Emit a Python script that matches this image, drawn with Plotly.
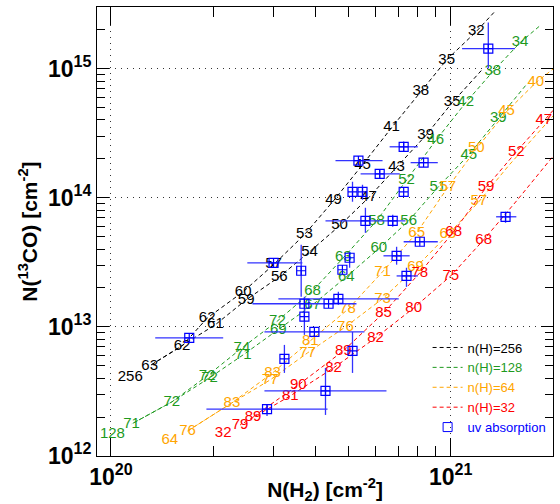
import plotly.graph_objects as go

# ---------------- model curves (N(H2), N(13CO), point labels) ----------------
# n(H)=256
b1_x = [1.34e21, 1.19e21, 9.73e20, 8.16e20, 6.70e20, 5.50e20, 4.52e20, 3.71e20, 3.01e20, 2.45e20, 1.92e20, 1.62e20, 1.30e20]
b1_y = [2.72e15, 1.94e15, 1.17e15, 6.63e14, 3.49e14, 1.80e14, 9.48e13, 5.17e13, 3.03e13, 1.87e13, 1.17e13, 7.12e12, 4.99e12]
b1_t = ["", "32", "35", "38", "41", "45", "49", "53", "57", "60", "62", "62", "63"]
b2_x = [1.23e21, 1.01e21, 8.44e20, 6.93e20, 5.73e20, 4.71e20, 3.84e20, 3.13e20, 2.50e20, 2.03e20, 1.62e20, 1.30e20]
b2_y = [9.65e14, 5.45e14, 3.03e14, 1.71e14, 1.00e14, 6.07e13, 3.81e13, 2.44e13, 1.62e13, 1.04e13, 7.12e12, 4.99e12]
b2_t = ["", "35", "39", "43", "47", "50", "54", "56", "59", "61", "", ""]
# n(H)=128
g1_x = [1.82e21, 1.60e21, 1.33e21, 1.107e21, 9.03e20, 7.41e20, 6.05e20, 4.83e20, 3.92e20, 3.09e20, 2.43e20, 1.92e20, 1.51e20, 1.15e20]
g1_y = [2.12e15, 1.59e15, 9.48e14, 5.45e14, 2.77e14, 1.36e14, 6.63e13, 3.43e13, 1.90e13, 1.11e13, 6.87e12, 4.17e12, 2.62e12, 1.77e12]
g1_t = ["", "34", "38", "42", "46", "52", "58", "63", "68", "72", "74", "72", "72", "71"]
g2_x = [1.66e21, 1.38e21, 1.13e21, 9.16e20, 7.52e20, 6.14e20, 4.93e20, 3.92e20, 3.11e20, 2.45e20, 1.95e20, 1.51e20, 1.15e20]
g2_y = [7.38e14, 4.10e14, 2.15e14, 1.20e14, 6.63e13, 4.03e13, 2.44e13, 1.48e13, 9.48e12, 6.07e12, 4.03e12, 2.62e12, 1.77e12]
g2_t = ["", "39", "45", "51", "56", "60", "64", "67", "69", "71", "72", "", ""]
# n(H)=64
o1_x = [2.10e21, 1.78e21, 1.46e21, 1.19e21, 9.80e20, 7.94e20, 6.30e20, 4.97e20, 3.86e20, 2.99e20, 2.27e20, 1.68e20]
o1_y = [1.10e15, 7.78e14, 4.64e14, 2.40e14, 1.20e14, 5.35e13, 2.67e13, 1.36e13, 7.79e12, 4.40e12, 2.58e12, 1.56e12]
o1_t = ["", "40", "45", "50", "57", "65", "71", "78", "81", "83", "83", "76"]
o2_x = [2.29e21, 1.84e21, 1.48e21, 1.21e21, 9.80e20, 7.88e20, 6.30e20, 4.90e20, 3.79e20, 2.94e20, 2.27e20, 1.68e20]
o2_y = [6.40e14, 3.37e14, 1.77e14, 9.31e13, 5.17e13, 2.87e13, 1.65e13, 1.00e13, 6.29e12, 3.88e12, 2.58e12, 1.56e12]
o2_t = ["", "", "", "57", "63", "69", "73", "76", "77", "77", "", ""]
# n(H)=32
r1_x = [2.27e21, 1.88e21, 1.56e21, 1.27e21, 1.02e21, 8.11e20, 6.34e20, 4.83e20, 3.56e20, 2.62e20]
r1_y = [6.90e14, 3.95e14, 2.27e14, 1.20e14, 5.45e13, 2.62e13, 1.28e13, 6.52e12, 3.55e12, 2.01e12]
r1_t = ["", "47", "52", "59", "68", "78", "85", "89", "90", "89"]
r2_x = [2.45e21, 1.96e21, 1.57e21, 1.25e21, 1.00e21, 7.78e20, 6.01e20, 4.52e20, 3.37e20, 2.40e20]
r2_y = [4.03e14, 1.97e14, 9.60e13, 4.72e13, 2.48e13, 1.40e13, 8.22e12, 4.81e12, 2.92e12, 1.74e12]
r2_t = ["", "", "", "68", "75", "80", "82", "82", "81", "79"]

# density labels at the start of each family
dens_names = ["256", "128", "64", "32"]
dens_x = [1.14e20, 1.01e20, 1.49e20, 2.14e20]
dens_y = [4.10e12, 1.48e12, 1.33e12, 1.51e12]

# ---------------- UV absorption measurements ----------------
uv_x   = [1.29e21, 7.27e20, 8.32e20, 5.35e20, 6.18e20, 5.14e20, 5.50e20, 7.27e20, 5.61e20, 6.75e20,
          8.11e20, 1.45e21, 6.93e20, 7.41e20, 5.04e20, 4.80e20, 3.63e20, 3.01e20, 3.71e20, 4.37e20,
          4.67e20, 3.71e20, 3.97e20, 5.14e20, 3.24e20, 4.28e20, 2.88e20, 1.70e20]
uv_xlo = [1.08e21, 6.61e20, 7.62e20, 4.58e20, 5.43e20, 5.14e20, 5.50e20, 7.27e20, 4.28e20, 6.75e20,
          7.27e20, 1.36e21, 6.34e20, 6.93e20, 5.04e20, 4.80e20, 3.63e20, 2.52e20, 2.61e20, 4.37e20,
          3.11e20, 3.71e20, 2.83e20, 5.14e20, 3.24e20, 2.83e20, 1.91e20, 1.35e20]
uv_xhi = [1.545e21, 8.00e20, 9.16e20, 6.30e20, 7.08e20, 5.14e20, 5.50e20, 7.27e20, 7.36e20, 6.75e20,
          9.16e20, 1.56e21, 7.57e20, 8.00e20, 5.04e20, 4.80e20, 3.63e20, 3.66e20, 5.28e20, 4.37e20,
          7.03e20, 3.71e20, 5.57e20, 5.14e20, 3.24e20, 6.47e20, 4.34e20, 2.14e20]
uv_y   = [1.43e15, 2.48e14, 1.87e14, 1.94e14, 1.53e14, 1.11e14, 1.11e14, 1.11e14, 6.63e13, 6.63e13,
          4.56e13, 7.12e13, 3.55e13, 2.48e13, 3.43e13, 2.77e13, 2.72e13, 3.13e13, 1.51e13, 1.51e13,
          1.65e13, 1.20e13, 9.15e12, 6.52e12, 5.65e12, 3.19e12, 2.31e12, 8.22e12]
uv_ylo = [1.00e15, 2.27e14, 1.87e14, 1.94e14, 1.40e14, 9.31e13, 9.65e13, 1.11e14, 5.35e13, 5.96e13,
          4.56e13, 6.40e13, 3.03e13, 2.04e13, 2.87e13, 2.77e13, 1.71e13, 3.13e13, 1.51e13, 1.51e13,
          1.48e13, 8.67e12, 9.15e12, 4.40e12, 4.40e12, 2.08e12, 2.04e12, 8.22e12]
uv_yhi = [2.27e15, 2.72e14, 1.87e14, 1.94e14, 1.67e14, 1.33e14, 1.26e14, 1.11e14, 8.36e13, 7.38e13,
          4.56e13, 7.79e13, 4.17e13, 2.87e13, 3.81e13, 2.77e13, 4.32e13, 3.13e13, 1.51e13, 1.51e13,
          1.87e13, 1.71e13, 9.15e12, 9.15e12, 7.25e12, 4.81e12, 2.49e12, 8.22e12]

BLACK = "#000000"
GREEN = "#1e9a1e"
ORANGE = "#ffa500"
RED = "#ff0000"
BLUE = "#0000ff"
FONT = "Liberation Sans, Arial, sans-serif"

fig = go.Figure()

curves = [
    (b1_x, b1_y, b1_t, BLACK, "n(H)=256", True),
    (b2_x, b2_y, b2_t, BLACK, "n(H)=256", False),
    (g1_x, g1_y, g1_t, GREEN, "n(H)=128", True),
    (g2_x, g2_y, g2_t, GREEN, "n(H)=128", False),
    (o1_x, o1_y, o1_t, ORANGE, "n(H)=64", True),
    (o2_x, o2_y, o2_t, ORANGE, "n(H)=64", False),
    (r1_x, r1_y, r1_t, RED, "n(H)=32", True),
    (r2_x, r2_y, r2_t, RED, "n(H)=32", False),
]
for cx, cy, ct, col, name, show in curves:
    fig.add_trace(go.Scatter(
        x=cx, y=cy, mode="lines",
        line=dict(color=col, width=1, dash="4px,3px"),
        name='<span style="color:%s">%s</span>' % (col, name),
        showlegend=show, hoverinfo="skip",
    ))
    lab = [(xv, yv, t) for xv, yv, t in zip(cx, cy, ct) if t]
    fig.add_trace(go.Scatter(
        x=[p[0] for p in lab], y=[p[1] for p in lab], text=[p[2] for p in lab],
        mode="text", textposition="middle center",
        textfont=dict(color=col, size=15, family=FONT),
        showlegend=False, hoverinfo="skip",
    ))

dens_cols = [BLACK, GREEN, ORANGE, RED]
fig.add_trace(go.Scatter(
    x=dens_x, y=dens_y, text=dens_names, mode="text",
    textfont=dict(color=dens_cols, size=15, family=FONT),
    showlegend=False, hoverinfo="skip",
))

fig.add_trace(go.Scatter(
    x=uv_x, y=uv_y, mode="markers",
    marker=dict(symbol="square-cross-open", size=9, color=BLUE, line=dict(width=1.2, color=BLUE)),
    error_x=dict(type="data", symmetric=False,
                 array=[h - v for h, v in zip(uv_xhi, uv_x)],
                 arrayminus=[v - l for l, v in zip(uv_xlo, uv_x)],
                 color="rgb(50,50,255)", thickness=1.3, width=0),
    error_y=dict(type="data", symmetric=False,
                 array=[h - v for h, v in zip(uv_yhi, uv_y)],
                 arrayminus=[v - l for l, v in zip(uv_ylo, uv_y)],
                 color="rgb(50,50,255)", thickness=1.3, width=0),
    showlegend=False, hoverinfo="skip",
))
# legend entry for the measurements
fig.add_trace(go.Scatter(
    x=[None], y=[None], mode="markers",
    marker=dict(symbol="square-open", size=9, color=BLUE),
    name='<span style="color:#0000ff">uv absorption</span>', showlegend=True,
))

x_minor = [2e20, 3e20, 4e20, 5e20, 6e20, 7e20, 8e20, 9e20, 2e21]
y_minor = [m * 10 ** e for e in (12, 13, 14) for m in range(2, 10)] + [2e15, 3e15]

axis_common = dict(
    type="log", showline=True, linecolor="black", linewidth=1, mirror="allticks",
    ticks="inside", tickcolor="black", tickwidth=1, automargin=False,
    showgrid=True, gridcolor="#333333", gridwidth=1, griddash="1px,5px",
    zeroline=False, tickfont=dict(size=23, family=FONT, color="black"),
)

fig.update_xaxes(
    **axis_common,
    range=[19.959, 21.301],
    tickvals=[1e20, 1e21],
    ticktext=["<b>10<sup>20</sup></b>", "<b>10<sup>21</sup></b>"],
    ticklen=18,
    minor=dict(tickvals=x_minor, ticks="inside", ticklen=10, tickcolor="black", showgrid=False),
    title=dict(text="<b>N(H<sub>2</sub>) [cm<sup>-2</sup>]</b>", font=dict(size=21, family=FONT, color="black"), standoff=0),
)
fig.update_yaxes(
    **axis_common,
    range=[12, 15.477],
    tickvals=[1e12, 1e13, 1e14, 1e15],
    ticktext=["<b>10<sup>12</sup></b>", "<b>10<sup>13</sup></b>", "<b>10<sup>14</sup></b>", "<b>10<sup>15</sup></b>"],
    ticklen=12,
    minor=dict(tickvals=y_minor, ticks="inside", ticklen=8, tickcolor="black", showgrid=False),
    title=dict(text="<b>N(<sup>13</sup>CO) [cm<sup>-2</sup>]</b>", font=dict(size=21, family=FONT, color="black"), standoff=4),
)

fig.update_layout(
    width=560, height=504,
    margin=dict(l=97, r=7, t=7, b=48),
    paper_bgcolor="white", plot_bgcolor="white",
    font=dict(family=FONT, color="black"),
    legend=dict(x=0.725, y=0.275, xanchor="left", yanchor="top",
                bgcolor="rgba(0,0,0,0)", font=dict(size=13, family=FONT),
                tracegroupgap=0, itemwidth=30),
)

fig.write_html("out.html", config={"displayModeBar": False},
               post_script="document.body.style.margin='0px';")
